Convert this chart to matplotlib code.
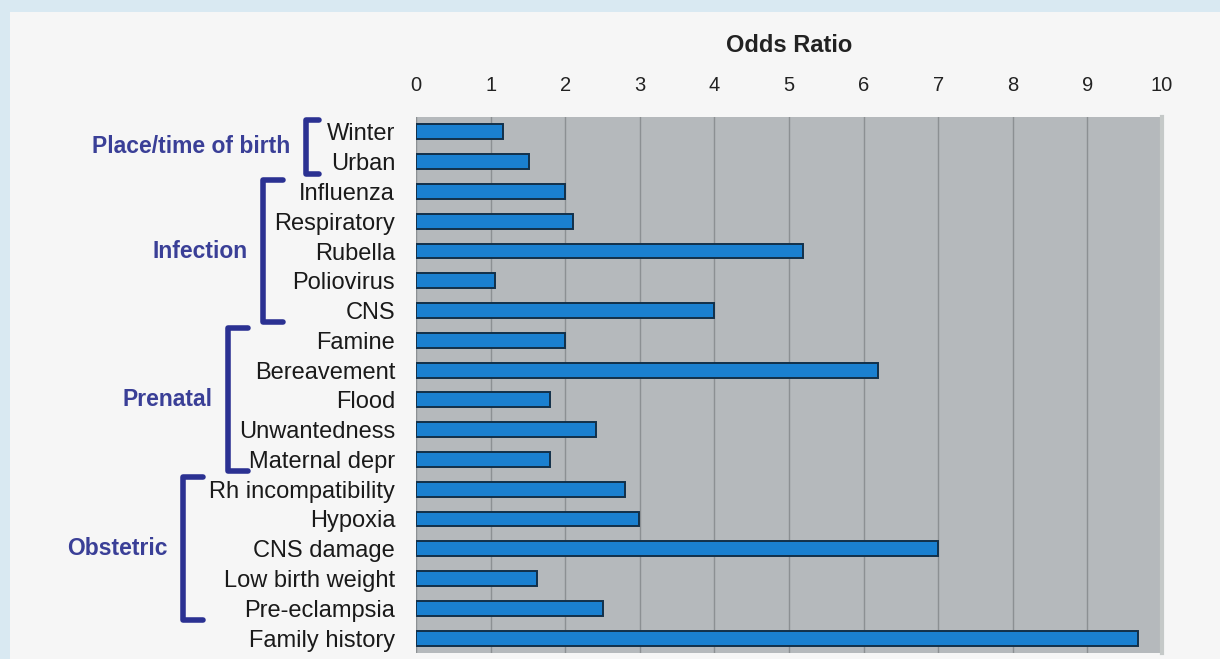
import numpy as np
import matplotlib.pyplot as plt
from matplotlib.patches import Rectangle
from matplotlib.transforms import blended_transform_factory

plt.rcParams['font.family'] = ['Liberation Sans', 'DejaVu Sans']

factors = ['Winter', 'Urban', 'Influenza', 'Respiratory', 'Rubella', 'Poliovirus', 'CNS',
           'Famine', 'Bereavement', 'Flood', 'Unwantedness', 'Maternal depr',
           'Rh incompatibility', 'Hypoxia', 'CNS damage', 'Low birth weight',
           'Pre-eclampsia', 'Family history']
odds = [1.16, 1.51, 2.0, 2.1, 5.19, 1.06, 4.0,
        2.0, 6.19, 1.8, 2.41, 1.8,
        2.8, 2.99, 7.0, 1.62, 2.5, 9.68]
ticks = list(range(0, 11))

groups = ['Place/time of birth', 'Infection', 'Prenatal', 'Obstetric']
group_first = [0, 2, 7, 12]
group_last = [1, 6, 11, 16]

fig = plt.figure(figsize=(12.2, 6.59), dpi=100)
fig.patch.set_facecolor('#d9e9f2')
fig.patches.append(Rectangle((10 / 1220, 0), 1, 1 - 12 / 659, transform=fig.transFigure,
                             facecolor='#f6f6f6', edgecolor='none', zorder=-10))

ax = fig.add_axes([416 / 1220, 1 - 653 / 659, 746 / 1220, 536 / 659])
ax.set_facecolor('#b5b9bc')
y = np.arange(len(factors))
ax.barh(y, odds, height=0.5, color='#1a80d0', edgecolor='#123049', linewidth=1.4, zorder=3)
ax.set_xlim(0, 10)
ax.set_ylim(len(factors) - 0.5, -0.5)
ax.set_xticks(ticks)
ax.xaxis.tick_top()
ax.tick_params(axis='x', length=0, pad=16, labelsize=14.5, colors='#222222')
ax.grid(axis='x', color='#8c9093', linewidth=1, zorder=1)
ax.set_yticks(y)
ax.set_yticklabels(factors, fontsize=17, color='#1a1a1a')
ax.tick_params(axis='y', length=0, pad=15)
for s in ['left', 'bottom', 'top']:
    ax.spines[s].set_visible(False)
ax.spines['right'].set_color('#c5c9c8')
ax.spines['right'].set_linewidth(3)

fig.text(789 / 1220, 1 - 45 / 659, 'Odds Ratio', ha='center', va='center',
         fontsize=17, fontweight='bold', color='#222222')

# brackets: x in figure pixels, y in bar units
tr = blended_transform_factory(fig.transFigure, ax.transData)
bx = [306, 263, 228, 183]
arm = [13, 20, 20, 20]
label_x = [290, 248, 212, 168]
navy = '#2b3192'
for g, name in enumerate(groups):
    top = group_first[g] - 0.4
    bot = group_last[g] + 0.4
    xs = [(bx[g] + arm[g]) / 1220, bx[g] / 1220, bx[g] / 1220, (bx[g] + arm[g]) / 1220]
    ax.plot(xs, [top, top, bot, bot], color=navy, linewidth=4, transform=tr,
            clip_on=False, solid_joinstyle='round', solid_capstyle='round')
    ax.text(label_x[g] / 1220, (top + bot) / 2, name, transform=tr, ha='right', va='center',
            fontsize=16.5, fontweight='bold', color='#3a3f97')

fig.savefig('out.png', dpi=100, facecolor=fig.get_facecolor())
